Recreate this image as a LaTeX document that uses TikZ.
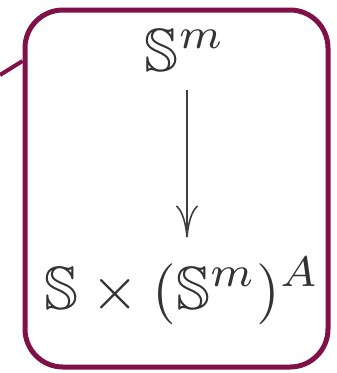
\documentclass[tikz,border=0pt]{standalone}
\usepackage{amssymb}
\usetikzlibrary{arrows.meta}
\definecolor{framecol}{RGB}{127,16,72}
\newcommand{\bigmath}[1]{\scalebox{6.1}{$#1$}}
\begin{document}
\begin{tikzpicture}[x=1pt,y=-1pt,
  lbl/.style={text=black!80, inner sep=0pt, anchor=base},
  frameline/.style={draw=framecol, line width=5pt},
  maparrow/.style={line width=1.6pt, draw=black!75, -{Computer Modern Rightarrow[length=32pt,width=22pt]}},
]
\useasboundingbox (0,0) rectangle (337,373);
\node[frameline, rounded corners=38pt, minimum width=303pt, minimum height=357pt, inner sep=0pt] (box) at (176.5,188.5) {};
\coordinate (lineend) at (0,75);
\draw[framecol, line width=4pt] (box.west |- 0,61) -- (lineend);
\node[lbl] (top) at (185,71) {\bigmath{\mathbb{S}^m}};
\node[lbl] (bot) at (182,309) {\bigmath{\mathbb{S}\times(\mathbb{S}^m)^A}};
\draw[maparrow, shorten <=19pt, shorten >=20pt] ([xshift=2pt]top.south) -- ([xshift=2pt]top.south |- bot.north);
\end{tikzpicture}
\end{document}
